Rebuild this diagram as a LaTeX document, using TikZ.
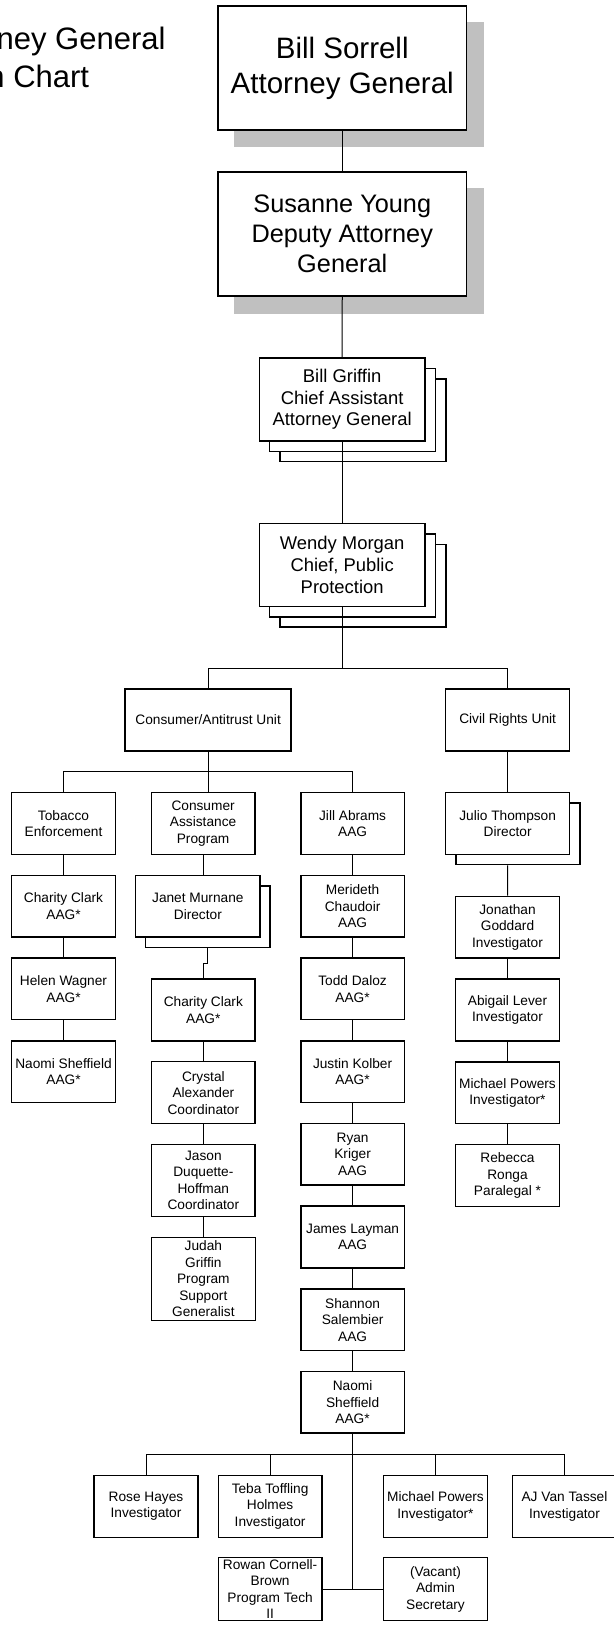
\documentclass[tikz,border=0pt]{standalone}
\usepackage{fontspec}
\setmainfont{Liberation Sans}
\usetikzlibrary{calc}
\pgfdeclarelayer{back}
\pgfdeclarelayer{lines}
\pgfsetlayers{back,lines,main}
\definecolor{shadowgray}{RGB}{192,192,192}
\tikzset{
  box/.style={draw, fill=white, line width=1.5pt, inner sep=0pt, align=center,
    minimum width=103.6pt, minimum height=61.6pt,
    font=\fontsize{13.7}{16.5}\selectfont},
  topbox/.style={box, line width=1.7pt, minimum width=248.3pt, minimum height=124pt},
  midbox/.style={box, minimum width=165.7pt, minimum height=82.8pt,
    font=\fontsize{18.4}{21.7}\selectfont},
  titletext/.style={inner sep=0pt, anchor=base east, font=\fontsize{31}{38}\selectfont},
  link/.style={line width=1pt},
  grayshadow/.style={fill=shadowgray, draw=none}
}
\begin{document}
\begin{tikzpicture}[x=1pt,y=-1pt]
\useasboundingbox (0,0) rectangle (613,1627);

% title (cut at the left edge)
\node[titletext] (t1) at (165.7,49.3) {ney General};
\node[titletext] (t2) at (89.3,87.3) {n Chart};

% top
\node[topbox, font=\fontsize{29.5}{35}\selectfont] (bs) at (342.25,68) {Bill Sorrell\\Attorney General};
\node[topbox, font=\fontsize{25.3}{30}\selectfont] (sy) at (342.25,234.15) {Susanne Young\\Deputy Attorney\\General};
\node[midbox] (bg) at (342.15,399.5) {Bill Griffin\\Chief Assistant\\Attorney General};
\node[midbox] (wm) at (342.15,565) {Wendy Morgan\\Chief, Public\\Protection};

% units
\node[box, minimum width=166.1pt] (cau) at (208.15,720) {Consumer/Antitrust Unit};
\node[box, minimum width=123.9pt] (cru) at (507.65,720) {Civil Rights Unit};

% row 1
\node[box] (tob) at (63.5,823.5) {Tobacco\\Enforcement};
\node[box] (cap) at (203.1,823.5) {Consumer\\Assistance\\Program};
\node[box] (jill) at (352.6,823.5) {Jill Abrams\\AAG};
\node[box, minimum width=123.9pt] (julio) at (507.65,823.5) {Julio Thompson\\Director};

% left column
\node[box] (charity1) at (63.5,906.2) {Charity Clark\\AAG*};
\node[box] (helen) at (63.5,988.9) {Helen Wagner\\AAG*};
\node[box] (naomi1) at (63.5,1071.6) {Naomi Sheffield\\AAG*};

% consumer assistance column
\node[box, minimum width=124.3pt] (janet) at (197.85,906.2) {Janet Murnane\\Director};
\node[box, minimum width=103.3pt, minimum height=62pt] (charity2) at (203.35,1010) {Charity Clark\\AAG*};
\node[box, minimum width=103.3pt, minimum height=62pt] (crystal) at (203.35,1092.7) {Crystal\\Alexander\\Coordinator};
\node[box, minimum width=103.3pt, minimum height=72.4pt] (jason) at (203.35,1180.5) {Jason\\Duquette-\\Hoffman\\Coordinator};
\node[box, minimum width=104pt, minimum height=83.4pt] (judah) at (203.35,1279) {Judah\\Griffin\\Program\\Support\\Generalist};

% Jill column
\node[box] (merideth) at (352.6,906.2) {Merideth\\Chaudoir\\AAG};
\node[box] (todd) at (352.6,988.9) {Todd Daloz\\AAG*};
\node[box] (justin) at (352.6,1071.6) {Justin Kolber\\AAG*};
\node[box] (ryan) at (352.6,1154.3) {Ryan\\Kriger\\AAG};
\node[box] (james) at (352.6,1237.0) {James Layman\\AAG};
\node[box] (shannon) at (352.6,1319.7) {Shannon\\Salembier\\AAG};
\node[box] (naomi2) at (352.6,1402.4) {Naomi\\Sheffield\\AAG*};

% civil rights column
\node[box] (jonathan) at (507.5,927.15) {Jonathan\\Goddard\\Investigator};
\node[box] (abigail) at (507.5,1010) {Abigail Lever\\Investigator};
\node[box] (michael1) at (507.5,1092.7) {Michael Powers\\Investigator*};
\node[box] (rebecca) at (507.5,1175.5) {Rebecca\\Ronga\\Paralegal *};

% bottom
\node[box, minimum height=62pt] (rose) at (146,1506.3) {Rose Hayes\\Investigator};
\node[box, minimum height=62pt] (teba) at (270.1,1506.3) {Teba Toffling\\Holmes\\Investigator};
\node[box, minimum height=62pt] (michael2) at (435.5,1506.3) {Michael Powers\\Investigator*};
\node[box, minimum height=62pt] (aj) at (564.5,1506.3) {AJ Van Tassel\\Investigator};
\node[box, minimum height=63pt] (rowan) at (270.1,1589.2) {Rowan Cornell-\\Brown\\Program Tech\\II};
\node[box, minimum height=63pt] (vacant) at (435.5,1589.2) {(Vacant)\\Admin\\Secretary};

% shadows and stacked copies
\begin{pgfonlayer}{back}
\fill[grayshadow] ([shift={(16.5,16.5)}]bs.north west) rectangle ([shift={(16.5,16.5)}]bs.south east);
\fill[grayshadow] ([shift={(16.5,16.5)}]sy.north west) rectangle ([shift={(16.5,16.5)}]sy.south east);
\node[midbox] (bgC) at ([shift={(20.8,20.8)}]bg.center) {};
\node[midbox] (bgB) at ([shift={(10.4,10.4)}]bg.center) {};
\node[midbox] (wmC) at ([shift={(20.8,20.8)}]wm.center) {};
\node[midbox] (wmB) at ([shift={(10.4,10.4)}]wm.center) {};
\node[box, minimum width=123.9pt] (julioB) at ([shift={(10.5,10.3)}]julio.center) {};
\node[box, minimum width=124.3pt] (janetB) at ([shift={(10,10.4)}]janet.center) {};
\end{pgfonlayer}

% connectors
\begin{pgfonlayer}{lines}
\coordinate (b1) at (342.15,668.3);
\coordinate (b2) at (208.15,771.7);
\coordinate (b3) at (352.6,1454.3);
\draw[link] (bs.south) -- (sy.north);
\draw[link] (sy.south) -- (bg.north);
\draw[link] (bg.south) -- (wm.north);
\draw[link] (wm.south) -- (b1);
\draw[link] (cau.north) |- (b1) -| (cru.north);
\draw[link] (cau.south) -- (cau.south |- cap.north);
\draw[link] (tob.north) |- (b2) -| (jill.north);
\draw[link] (cru.south) -- (julio.north);
\draw[link] (tob.south) -- (charity1.north);
\draw[link] (charity1.south) -- (helen.north);
\draw[link] (helen.south) -- (naomi1.north);
\draw[link] (cap.south) -- (cap.south |- janet.north);
\draw[link] (janetB.south) -- ++(0,15.6) -| (charity2.north);
\draw[link] (charity2.south) -- (crystal.north);
\draw[link] (crystal.south) -- (jason.north);
\draw[link] (jason.south) -- (judah.north);
\draw[link] (jill.south) -- (merideth.north);
\draw[link] (merideth.south) -- (todd.north);
\draw[link] (todd.south) -- (justin.north);
\draw[link] (justin.south) -- (ryan.north);
\draw[link] (ryan.south) -- (james.north);
\draw[link] (james.south) -- (shannon.north);
\draw[link] (shannon.south) -- (naomi2.north);
\draw[link] (julioB.south -| julio.south) -- (jonathan.north);
\draw[link] (jonathan.south) -- (abigail.north);
\draw[link] (abigail.south) -- (michael1.north);
\draw[link] (michael1.south) -- (rebecca.north);
\draw[link] (naomi2.south) -- (naomi2.south |- rowan.east);
\draw[link] (rowan.east) -- (vacant.west);
\draw[link] (rose.north) |- (b3) -| (aj.north);
\draw[link] (teba.north) -- (teba.north |- b3);
\draw[link] (michael2.north) -- (michael2.north |- b3);
\end{pgfonlayer}
\end{tikzpicture}
\end{document}
